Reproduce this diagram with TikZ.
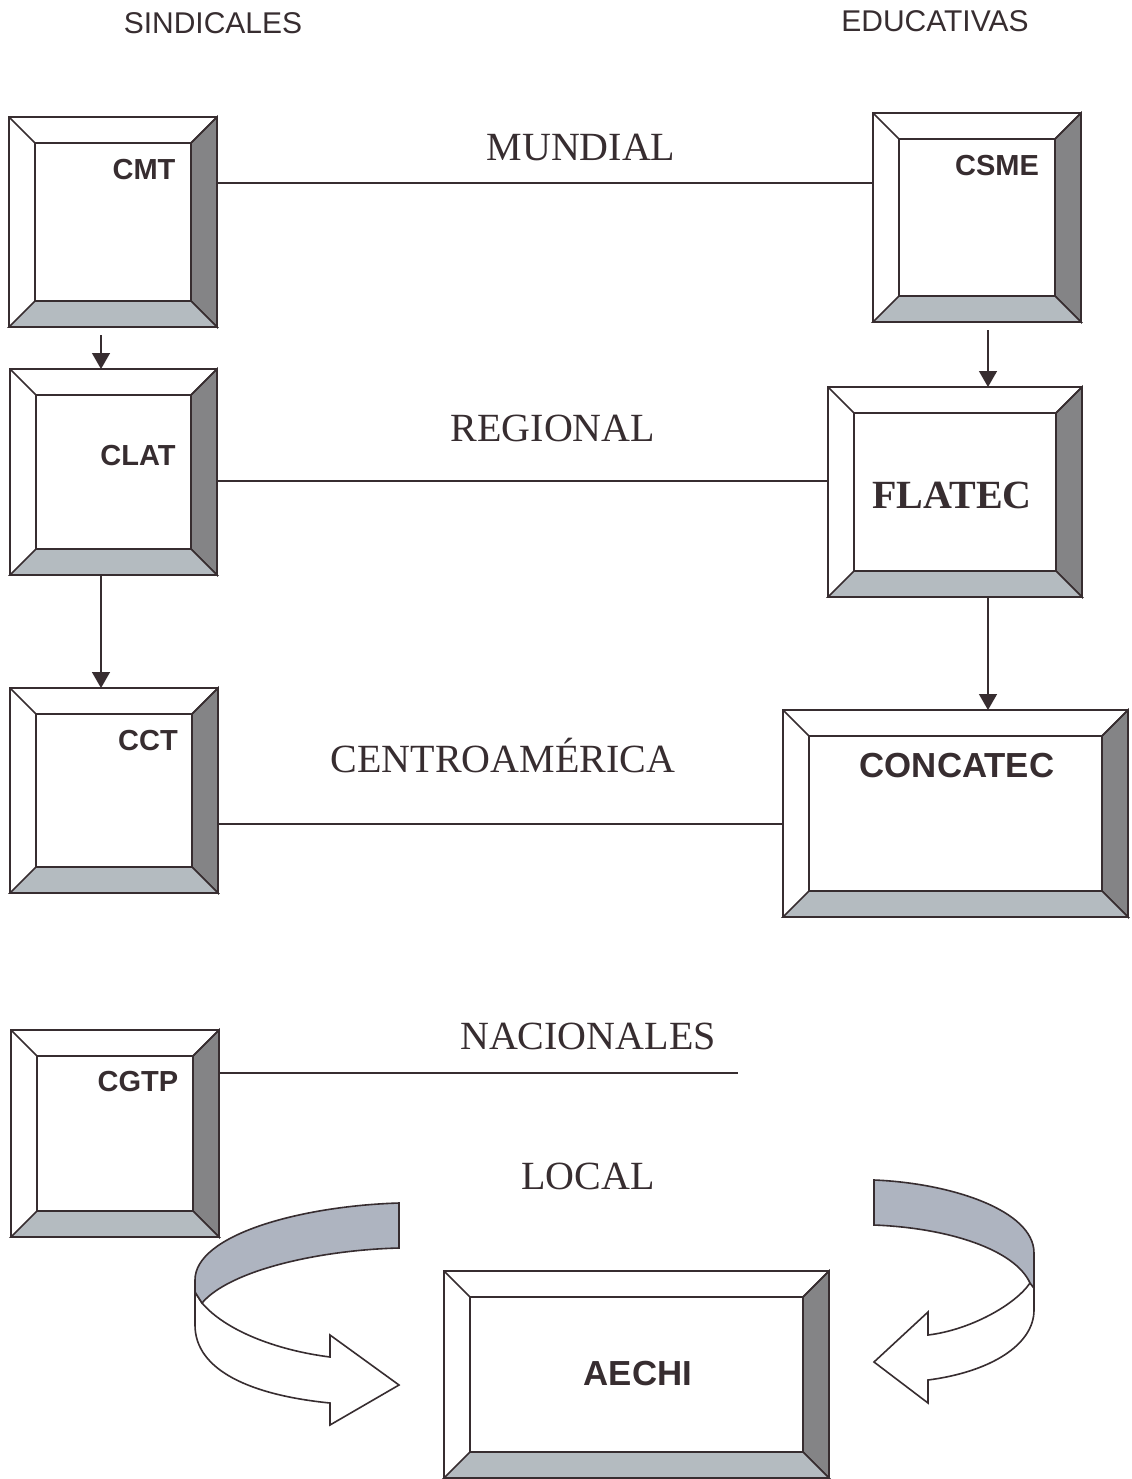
\documentclass[tikz,border=0pt]{standalone}
\usepackage{fontspec}
\setmainfont{Liberation Serif}
\setsansfont{Liberation Sans}
\usetikzlibrary{arrows.meta,calc,fit}
\definecolor{ink}{RGB}{55,45,48}
\definecolor{bevdark}{RGB}{132,132,134}
\definecolor{bevlight}{RGB}{180,187,192}
\definecolor{ribbon}{RGB}{174,180,192}
\tikzset{
  frame/.style={inner sep=0pt, outer sep=0pt, draw=none},
  edge/.style={draw=ink, line width=0.8pt, line join=miter},
  link/.style={draw=ink, line width=0.7pt},
  arr/.style={draw=ink, line width=0.7pt, -{Triangle[width=9pt,length=8pt]}},
  head/.style={font=\sffamily\fontsize{15}{18}\selectfont, text=ink, inner sep=0pt},
  level/.style={font=\rmfamily\fontsize{20}{24}\selectfont, text=ink, inner sep=0pt},
  boxlbl/.style={font=\sffamily\bfseries\fontsize{14.5}{17}\selectfont, text=ink, inner sep=0pt},
  biglbl/.style={font=\sffamily\bfseries\fontsize{17.4}{20}\selectfont, text=ink, inner sep=0pt},
  serlbl/.style={font=\rmfamily\bfseries\fontsize{20}{24}\selectfont, text=ink, inner sep=0pt},
}
% name, x1, y1, x2, y2
\newcommand\bevbox[5]{%
  \node[frame, fit={(#2,#3) (#4,#5)}] (#1) {};
  \coordinate (#1-a) at ($(#1.north west)+(26,26)$);
  \coordinate (#1-b) at ($(#1.north east)+(-26,26)$);
  \coordinate (#1-c) at ($(#1.south east)+(-26,-26)$);
  \coordinate (#1-d) at ($(#1.south west)+(26,-26)$);
  \fill[white] (#1.north west) rectangle (#1.south east);
  \path[edge, fill=bevdark] (#1.north east) -- (#1.south east) -- (#1-c) -- (#1-b) -- cycle;
  \path[edge, fill=bevlight] (#1.south west) -- (#1.south east) -- (#1-c) -- (#1-d) -- cycle;
  \path[edge] (#1.north west) -- (#1-a) (#1.north east) -- (#1-b);
  \path[edge] (#1.north west) rectangle (#1.south east);
  \path[edge] (#1-a) rectangle (#1-c);
}
\begin{document}
\begin{tikzpicture}[x=0.5pt,y=-0.5pt]
\useasboundingbox (0,0) rectangle (1131,1479);
\fill[white] (0,0) rectangle (1131,1479);

% headers
\node[head] (sind) at (213,23) {SINDICALES};
\node[head] (educ) at (935,21) {EDUCATIVAS};

% level labels
\node[level] (mund) at (581,147) {MUNDIAL};
\node[level] (regi) at (553,428) {REGIONAL};
\node[level] (cent) at (503,756) {CENTROAMÉRICA};
\node[level] (naci) at (588,1036) {NACIONALES};
\node[level] (loca) at (588,1176) {LOCAL};

% boxes
\bevbox{cmt}{9}{117}{217}{327}
\bevbox{csme}{873}{113}{1081}{322}
\bevbox{clat}{10}{369}{217}{575}
\bevbox{flatec}{828}{387}{1082}{597}
\bevbox{cct}{10}{688}{218}{893}
\bevbox{concatec}{783}{710}{1128}{917}
\bevbox{cgtp}{11}{1030}{219}{1237}
\bevbox{aechi}{444}{1271}{829}{1478}

% box labels
\node[boxlbl] (tcmt) at (144,170) {CMT};
\node[boxlbl] (tcsme) at (997,166) {CSME};
\node[boxlbl] (tclat) at (138,456) {CLAT};
\node[serlbl] (tflatec) at (952,495) {FLATEC};
\node[biglbl] (tconcatec) at (957,766) {CONCATEC};
\node[boxlbl] (tcct) at (148,741) {CCT};
\node[boxlbl] (tcgtp) at (138,1082) {CGTP};
\node[biglbl] (taechi) at (638,1374) {AECHI};

% horizontal links
\draw[link] (cmt.east |- 0,183) -- (csme.west |- 0,183);
\draw[link] (clat.east |- 0,481) -- (flatec.west |- 0,481);
\draw[link] (cct.east |- 0,824) -- (concatec.west |- 0,824);
\coordinate (nacend) at (738,1073);
\draw[link] (cgtp.east |- nacend) -- (nacend);

% vertical arrows
\draw[arr, shorten <=4pt] (cmt.south -| 101,0) -- (clat.north -| 101,0);
\draw[arr] (clat.south -| 101,0) -- (cct.north -| 101,0);
\draw[arr, shorten <=4pt] (csme.south -| 988,0) -- (flatec.north -| 988,0);
\draw[arr] (flatec.south -| 988,0) -- (concatec.north -| 988,0);

% left ribbon arrow
\path[edge, fill=white] (202,1303) .. controls (225,1330) and (275,1350) .. (330,1357)
  -- (330,1335) -- (399,1385) -- (330,1425) -- (330,1403)
  .. controls (250,1395) and (195,1370) .. (195,1325) -- (195,1292) -- cycle;
\path[edge, fill=ribbon] (399,1203) .. controls (300,1206) and (195,1235) .. (195,1280)
  -- (195,1292) -- (202,1303) .. controls (230,1270) and (320,1250) .. (399,1248) -- cycle;

% right ribbon arrow
\path[edge, fill=white] (1030,1283) .. controls (1015,1305) and (970,1330) .. (928,1335)
  -- (928,1312) -- (874,1362) -- (928,1403) -- (928,1380)
  .. controls (990,1372) and (1034,1345) .. (1034,1310) -- (1034,1288) -- cycle;
\path[edge, fill=ribbon] (874,1180) .. controls (950,1183) and (1034,1210) .. (1034,1253)
  -- (1034,1288) -- (1030,1283) .. controls (1015,1250) and (950,1228) .. (874,1225) -- cycle;
\end{tikzpicture}
\end{document}
